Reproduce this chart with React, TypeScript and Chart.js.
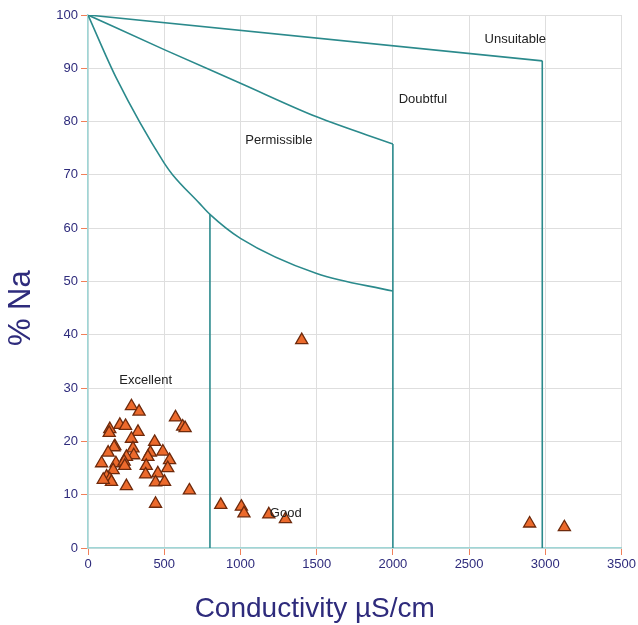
import React, { useEffect, useRef } from "react";
import { Chart, registerables } from "chart.js";

Chart.register(...registerables);

// Sample measurements (Conductivity µS/cm, % Na)
const sampleEC = [
  285, 335, 574, 621, 637, 143, 139, 209, 246, 328, 285, 437, 176, 171, 295, 132,
  491, 409, 300, 252, 393, 535, 89, 183, 237, 241, 382, 523, 165, 458, 378, 122,
  143, 154, 443, 502, 252, 665, 443, 100, 1402, 871, 1006, 1023, 1186, 1295, 2897, 3125,
];
const sampleNa = [
  26.6, 25.6, 24.5, 22.8, 22.5, 22.3, 21.6, 23.1, 22.9, 21.8, 20.5, 19.9, 19.1, 18.9, 18.7, 17.9,
  18.1, 17.9, 17.4, 17.1, 17.1, 16.5, 15.9, 15.9, 16.2, 15.4, 15.4, 15.0, 14.6, 14.0, 13.8, 13.4,
  12.9, 12.4, 12.3, 12.4, 11.6, 10.8, 8.3, 12.8, 39.0, 8.1, 7.75, 6.5, 6.3, 5.4, 4.6, 3.9,
];

// Wilcox boundary curves
const permissibleEC = [0, 187, 500, 556, 730, 800, 1000, 1500, 2000];
const permissibleNa = [100, 88.1, 72.2, 70.0, 64.7, 62.6, 58.1, 51.5, 48.2];
const doubtfulEC = [0, 500, 1000, 1500, 2000];
const doubtfulNa = [100, 93.5, 87.2, 80.9, 75.8];
const unsuitableEC = [0, 2980];
const unsuitableNa = [100, 91.4];
const dividerEC = [800, 2000, 2980];
const dividerTopNa = [62.6, 75.8, 91.4];

// Region labels (data coordinates)
const regionNames = ["Unsuitable", "Doubtful", "Permissible", "Excellent", "Good"];
const regionEC = [2803, 2197, 1252, 378, 1297];
const regionNa = [95.5, 84.2, 76.4, 31.5, 6.4];

const xTicks = [0, 500, 1000, 1500, 2000, 2500, 3000, 3500];
const yTicks = [0, 10, 20, 30, 40, 50, 60, 70, 80, 90, 100];

const xTitle = "Conductivity µS/cm";
const yTitle = "% Na";

const zip = (xs: number[], ys: number[]) => xs.map((x, i) => ({ x, y: ys[i] }));

const LINE = "#2b8a8c";
const NAVY = "#2e2b7c";
const FONT = '"Liberation Sans", Arial, sans-serif';

export default function App() {
  const ref = useRef<HTMLCanvasElement | null>(null);

  useEffect(() => {
    document.body.style.margin = "0";
    const canvas = ref.current;
    if (!canvas) return;

    const lineDs = (data: { x: number; y: number }[], smooth: boolean) => ({
      type: "line" as const,
      data,
      borderColor: LINE,
      borderWidth: 1.6,
      pointRadius: 0,
      fill: false,
      showLine: true,
      cubicInterpolationMode: smooth ? ("monotone" as const) : ("default" as const),
      tension: smooth ? 0.4 : 0,
    });

    const labelsPlugin = {
      id: "labels",
      afterDraw(chart: any) {
        const ctx = chart.ctx;
        const xs = chart.scales.x;
        const ys = chart.scales.y;
        const area = chart.chartArea;
        ctx.save();
        ctx.fillStyle = "#222";
        ctx.font = `13px ${FONT}`;
        ctx.textAlign = "center";
        ctx.textBaseline = "middle";
        regionNames.forEach((n, i) => {
          ctx.fillText(n, xs.getPixelForValue(regionEC[i]), ys.getPixelForValue(regionNa[i]));
        });
        ctx.fillStyle = NAVY;
        ctx.font = `28px ${FONT}`;
        ctx.fillText(xTitle, area.left + area.width * 0.425, 609);
        ctx.translate(21, area.top + area.height * 0.55);
        ctx.rotate(-Math.PI / 2);
        ctx.font = `31px ${FONT}`;
        ctx.fillText(yTitle, 0, 0);
        ctx.restore();
      },
    };

    const chart = new Chart(canvas, {
      type: "scatter",
      data: {
        datasets: [
          {
            type: "scatter",
            data: zip(sampleEC, sampleNa),
            pointStyle: "triangle",
            pointRadius: 7,
            pointHoverRadius: 7,
            backgroundColor: "#ec6a2c",
            borderColor: "#6e2a0c",
            borderWidth: 1.3,
          } as any,
          lineDs(zip(permissibleEC, permissibleNa), true),
          lineDs(zip(doubtfulEC, doubtfulNa), true),
          lineDs(zip(unsuitableEC, unsuitableNa), false),
          ...dividerEC.map((x, i) => lineDs([{ x, y: dividerTopNa[i] }, { x, y: 0 }], false)),
        ] as any,
      },
      options: {
        animation: false,
        responsive: false,
        events: [],
        layout: { padding: { top: 15, right: 0, left: 0, bottom: 0 } },
        plugins: { legend: { display: false }, tooltip: { enabled: false } },
        scales: {
          x: {
            type: "linear",
            min: 0,
            max: 3500,
            afterBuildTicks: (s: any) => {
              s.ticks = xTicks.map((v) => ({ value: v }));
            },
            afterFit: (s: any) => {
              s.height = 77;
            },
            ticks: {
              color: NAVY,
              font: { size: 13, family: FONT },
              padding: 2,
              maxRotation: 0,
              callback: (v: any) => String(v),
            },
            grid: { color: "#dedede", tickColor: "#f0805a", tickLength: 7, lineWidth: 1 },
            border: { color: "#9fd6d6", width: 1.5 },
          },
          y: {
            type: "linear",
            min: 0,
            max: 100,
            afterBuildTicks: (s: any) => {
              s.ticks = yTicks.map((v) => ({ value: v }));
            },
            afterFit: (s: any) => {
              s.width = 88;
            },
            ticks: {
              color: NAVY,
              font: { size: 13, family: FONT },
              padding: 3,
              callback: (v: any) => String(v),
            },
            grid: { color: "#dedede", tickColor: "#f0805a", tickLength: 7, lineWidth: 1 },
            border: { color: "#9fd6d6", width: 1.5 },
          },
        },
      } as any,
      plugins: [labelsPlugin],
    });

    return () => chart.destroy();
  }, []);

  return (
    <div style={{ width: 638, height: 625, background: "#fff" }}>
      <canvas ref={ref} width={638} height={625} style={{ display: "block" }} />
    </div>
  );
}
